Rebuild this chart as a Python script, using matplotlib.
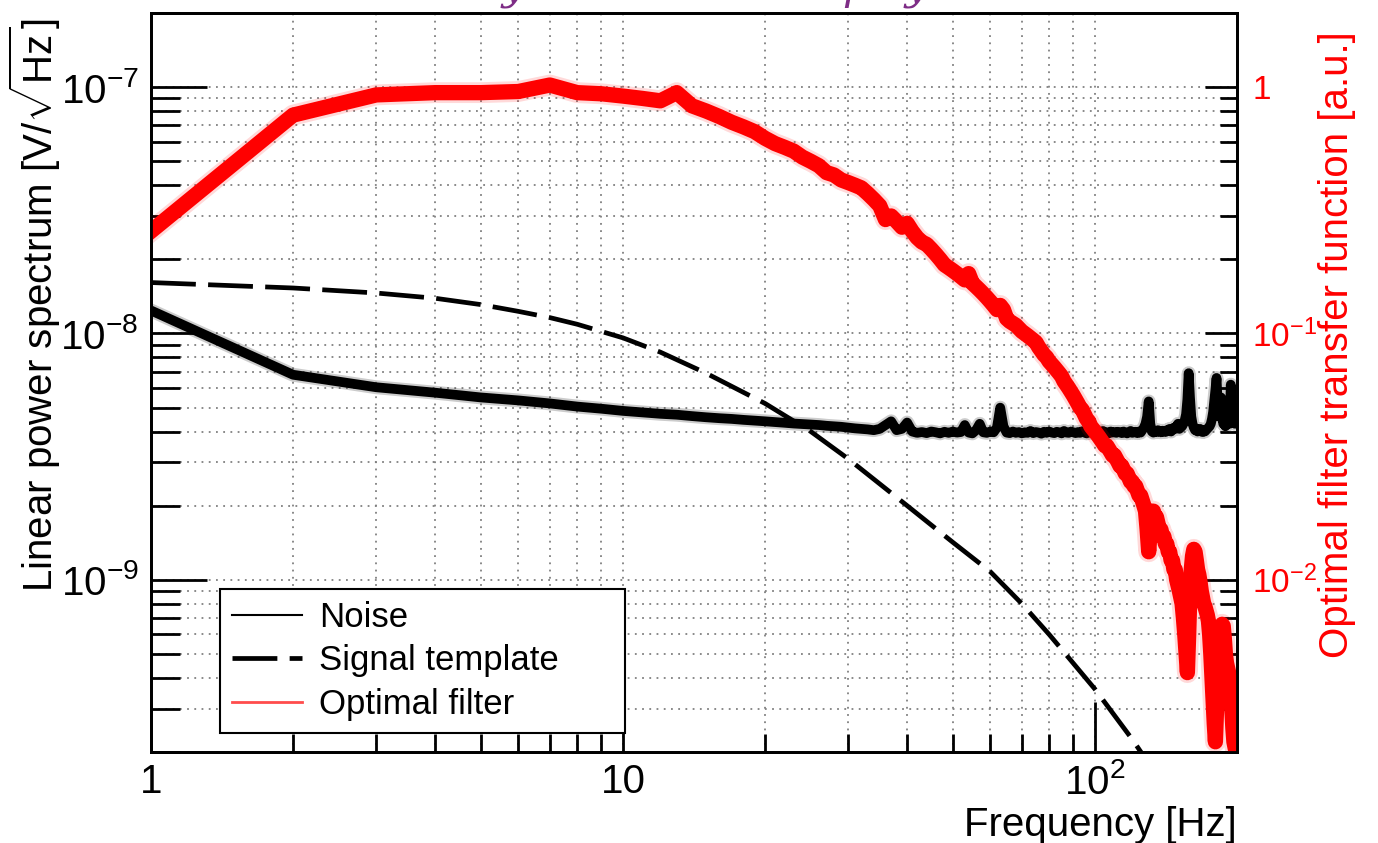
import matplotlib.pyplot as plt
from matplotlib.lines import Line2D
from matplotlib.ticker import LogLocator, NullFormatter

plt.rcParams['font.family'] = ['Liberation Sans', 'DejaVu Sans']
plt.rcParams['mathtext.fontset'] = 'custom'
plt.rcParams['mathtext.rm'] = 'Liberation Sans'
plt.rcParams['mathtext.it'] = 'Liberation Sans:italic'
plt.rcParams['mathtext.bf'] = 'Liberation Sans:bold'

# frequency bins [Hz]
freq = list(range(1, 201))

# noise amplitude spectrum, units of 1e-9 V/sqrt(Hz)
noise_nv = [
    12.4, 6.8, 6.05, 5.75, 5.5, 5.35, 5.2, 5.05, 4.95, 4.85,
    4.78, 4.72, 4.68, 4.62, 4.57, 4.53, 4.5, 4.46, 4.43, 4.4,
    4.37, 4.34, 4.31, 4.29, 4.27, 4.25, 4.22, 4.2, 4.18, 4.15,
    4.12, 4.1, 4.08, 4.05, 4.1, 4.25, 4.4, 4.05, 4.1, 4.35,
    4.0, 3.95, 3.98, 3.94, 4.0, 3.97, 3.93, 3.99, 3.95, 4.0,
    3.96, 3.98, 4.25, 3.96, 3.93, 4.05, 4.3, 3.97, 3.95, 4.0,
    3.97, 4.15, 5.0, 4.2, 3.96, 3.94, 4.0, 3.95, 3.98, 3.93,
    3.97, 3.95, 4.02, 3.94, 3.98, 3.96, 3.92, 3.99, 3.95, 4.0,
    3.96, 3.94, 3.99, 3.97, 3.93, 4.02, 3.96, 3.95, 4.0, 3.97,
    3.94, 3.98, 3.95, 4.01, 3.96, 3.93, 3.99, 3.96, 4.0, 3.95,
    3.97, 3.94, 3.99, 4.02, 3.95, 3.97, 3.93, 4.0, 3.96, 3.98,
    3.95, 3.99, 3.97, 3.94, 4.0, 3.96, 3.93, 3.98, 4.02, 3.95,
    3.97, 3.99, 3.94, 4.0, 3.96, 4.05, 4.15, 4.3, 4.6, 5.3,
    4.3, 4.0, 3.96, 4.02, 3.98, 4.05, 4.0, 3.97, 4.03, 4.0,
    3.98, 4.05, 4.02, 4.1, 4.0, 4.06, 4.15, 4.1, 4.2, 4.3,
    4.1, 4.15, 4.2, 4.3, 4.45, 4.7, 5.4, 6.9, 5.5, 4.6,
    4.3, 4.15, 4.05, 4.1, 4.0, 4.05, 4.1, 4.0, 3.98, 4.05,
    4.0, 4.05, 4.1, 4.15, 4.2, 4.3, 4.5, 4.8, 5.3, 5.9,
    6.6, 5.2, 4.6, 4.9, 5.5, 4.7, 4.3, 4.5, 4.2, 4.6,
    5.0, 4.4, 4.3, 6.2, 5.0, 4.4, 4.8, 4.3, 4.5, 4.4,
]

# optimal filter transfer function [a.u.]
filter_tf = [
    0.26, 0.77, 0.93, 0.95, 0.95, 0.96, 1.02, 0.95, 0.94, 0.92,
    0.9, 0.88, 0.95, 0.84, 0.8, 0.76, 0.72, 0.69, 0.66, 0.62,
    0.59, 0.57, 0.55, 0.52, 0.5, 0.48, 0.45, 0.44, 0.42, 0.41,
    0.4, 0.39, 0.37, 0.35, 0.33, 0.29, 0.3, 0.285, 0.27, 0.28,
    0.26, 0.245, 0.235, 0.23, 0.22, 0.21, 0.2, 0.19, 0.185, 0.18,
    0.175, 0.17, 0.165, 0.175, 0.16, 0.155, 0.15, 0.145, 0.14, 0.135,
    0.13, 0.125, 0.13, 0.125, 0.115, 0.112, 0.11, 0.108, 0.105, 0.102,
    0.1, 0.098, 0.096, 0.094, 0.092, 0.088, 0.085, 0.082, 0.08, 0.077,
    0.075, 0.073, 0.071, 0.069, 0.067, 0.064, 0.062, 0.06, 0.058, 0.056,
    0.054, 0.052, 0.05, 0.049, 0.047, 0.045, 0.044, 0.042, 0.041, 0.04,
    0.039, 0.038, 0.037, 0.036, 0.035, 0.035, 0.034, 0.033, 0.032, 0.032,
    0.031, 0.03, 0.029, 0.029, 0.028, 0.027, 0.027, 0.026, 0.025, 0.025,
    0.024, 0.024, 0.023, 0.022, 0.022, 0.021, 0.02, 0.019, 0.016, 0.013,
    0.016, 0.019, 0.019, 0.018, 0.018, 0.017, 0.016, 0.016, 0.015, 0.015,
    0.014, 0.014, 0.013, 0.013, 0.012, 0.012, 0.011, 0.011, 0.01, 0.0095,
    0.009, 0.0085, 0.008, 0.007, 0.006, 0.005, 0.0042, 0.006, 0.009, 0.011,
    0.0125, 0.0133, 0.013, 0.012, 0.011, 0.0105, 0.0098, 0.009, 0.0085, 0.008,
    0.0078, 0.0075, 0.0072, 0.0068, 0.006, 0.005, 0.004, 0.0032, 0.0026, 0.0022,
    0.003, 0.004, 0.005, 0.0058, 0.0063, 0.0066, 0.0065, 0.0058, 0.005, 0.0046,
    0.0044, 0.0042, 0.004, 0.0035, 0.003, 0.0025, 0.0022, 0.0021, 0.002, 0.0019,
]

# signal template, units of 1e-9 V/sqrt(Hz)
template_freq = [1, 2, 3, 4, 5, 6, 7, 8, 10, 12, 15, 20, 25, 30, 40, 50,
                 60, 70, 80, 100, 120, 150]
template_nv = [16.1, 15.3, 14.6, 13.9, 13.1, 12.3, 11.6, 10.9, 9.6, 8.4,
               6.9, 5.2, 4.0, 3.1, 2.0, 1.42, 1.08, 0.8, 0.6, 0.36, 0.225, 0.12]

noise = [v * 1e-9 for v in noise_nv]
template = [v * 1e-9 for v in template_nv]

W, H = 1378, 843
fig = plt.figure(figsize=(W / 100, H / 100), dpi=100)
ax = fig.add_axes([151 / W, 91 / H, 1086 / W, 739 / H])
ax2 = ax.twinx()

# noise band and signal template on the left axis
ax.plot(freq, noise, color='black', lw=10, alpha=0.2,
        solid_joinstyle='round', zorder=3)
ax.plot(freq, noise, color='black', lw=7, solid_joinstyle='round', zorder=3)
ax.plot(template_freq, template, color='black', lw=3.4, dashes=(9.5, 2.6),
        zorder=4)

# optimal filter on the right axis
ax2.plot(freq, filter_tf, color='red', lw=15, alpha=0.15,
         solid_joinstyle='round')
ax2.plot(freq, filter_tf, color='red', lw=11, solid_joinstyle='round')

ax.set_xscale('log')
ax.set_yscale('log')
ax2.set_yscale('log')
ax.set_xlim(1, 200)
ax.set_ylim(2e-10, 2e-7)
ax2.set_ylim(2e-3, 2)

ax.set_xticks([1, 10, 100], ['1', '10', '$10^2$'])
ax.set_yticks([1e-9, 1e-8, 1e-7], ['$10^{-9}$', '$10^{-8}$', '$10^{-7}$'])
ax2.set_yticks([1e-2, 1e-1, 1], ['$10^{-2}$', '$10^{-1}$', '1'])
for a in (ax.xaxis, ax.yaxis, ax2.yaxis):
    a.set_minor_locator(LogLocator(base=10, subs=range(2, 10), numticks=20))
    a.set_minor_formatter(NullFormatter())

ax.tick_params(axis='x', which='major', direction='in', length=36, width=2,
               labelsize=29, pad=8, top=False)
ax.tick_params(axis='x', which='minor', direction='in', length=13, width=2,
               top=False)
ax.tick_params(axis='y', which='major', direction='in', length=40, width=2,
               labelsize=29, pad=9, right=False)
ax.tick_params(axis='y', which='minor', direction='in', length=21, width=2,
               right=False)
ax2.tick_params(axis='y', which='major', direction='in', length=23, width=2,
                labelsize=24, labelcolor='red', pad=11)
ax2.tick_params(axis='y', which='minor', direction='in', length=12, width=2)

ax.grid(True, which='both', color='#808080', linestyle=(0, (1, 3)),
        linewidth=1.3)
for a in (ax, ax2):
    for s in a.spines.values():
        s.set_linewidth(2)

fig.text(35 / W, 1 - 305 / H, r'Linear power spectrum [V/$\sqrt{\mathrm{Hz}}$]',
         rotation=90, ha='center', va='center', fontsize=29)
fig.text(1337 / W, 1 - 345 / H, 'Optimal filter transfer function [a.u.]',
         rotation=90, ha='center', va='center', fontsize=29, color='red')
fig.text(1237 / W, 1 - 825 / H, 'Frequency [Hz]', ha='right', va='center',
         fontsize=29)

# descenders of the caption line above the frame
for gx, ch in [(513, 'y'), (856, 'p'), (916, 'y')]:
    fig.text(gx / W, 1 + 1 / H, ch, ha='center', va='baseline', fontsize=30,
             style='italic', family='DejaVu Serif', color='#7e2d86')

handles = [
    Line2D([], [], color='black', lw=1.5),
    Line2D([], [], color='black', lw=3.4, dashes=(9.5, 2.6)),
    Line2D([], [], color='red', lw=2, alpha=0.7),
]
leg = ax2.legend(handles, ['Noise', 'Signal template', 'Optimal filter'],
                 loc='lower left', bbox_to_anchor=(0.0635, 0.0257, 0.373, 0.192),
                 mode='expand', borderaxespad=0, fontsize=25, handlelength=2.0,
                 handletextpad=0.5, borderpad=0.35, labelspacing=0.3,
                 fancybox=False, framealpha=1, edgecolor='black')
leg.get_frame().set_linewidth(1.5)

fig.savefig('out.png', dpi=100)
